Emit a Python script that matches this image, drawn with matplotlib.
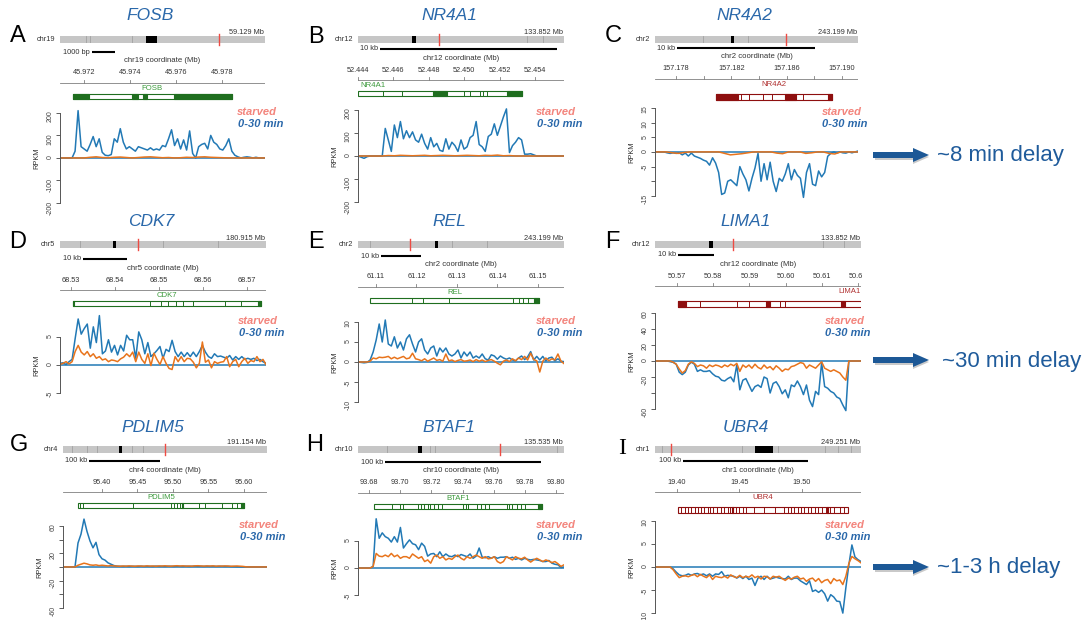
import numpy as np
import matplotlib
matplotlib.use('Agg')
import matplotlib.pyplot as plt
from matplotlib.patches import Rectangle, FancyArrow
from matplotlib.transforms import Bbox

plt.rcParams['font.family'] = ['Liberation Sans', 'DejaVu Sans']

# ------------------------------------------------------------------ data
genes = ['FOSB', 'NR4A1', 'NR4A2', 'CDK7', 'REL', 'LIMA1', 'PDLIM5', 'BTAF1', 'UBR4']
letters = ['A', 'B', 'C', 'D', 'E', 'F', 'G', 'H', 'I']
chroms = ['chr19', 'chr12', 'chr2', 'chr5', 'chr2', 'chr12', 'chr4', 'chr10', 'chr1']
chrom_len = [59.129, 133.852, 243.199, 180.915, 243.199, 133.852, 191.154, 135.535, 249.251]
gene_loc = [45.975, 52.449, 157.185, 68.55, 61.13, 50.59, 95.49, 93.74, 19.45]
centromere = [(24.8, 28.0), (35.1, 37.7), (90.7, 94.4), (46.6, 49.2), (90.9, 94.4),
              (35.1, 37.7), (52.5, 55.3), (39.5, 42.1), (121.0, 142.8)]
bands = [[7.5, 8.65, 20.8], [109.8, 120.0], [58.0, 111.0], [17.6, 90.5, 138.8],
         [14.2, 111.0, 152.0], [109.0, 123.0], [8.4, 22.5, 31.9, 64.7, 75.0],
         [19.0, 47.4, 50.6, 130.9], [8.5, 105.0, 149.0, 206.0, 222.0, 237.0]]

# visible window (Mb) of each locus
view = [(45.97096, 45.97987), (52.444, 52.45564), (157.17648, 157.19116),
        (68.5275, 68.57432), (61.10556, 61.15642), (50.56393, 50.62076),
        (95.3451, 95.6324), (93.6729, 93.8051), (19.3824, 19.5472)]
coord_ticks = [[45.972, 45.974, 45.976, 45.978],
               [52.444, 52.446, 52.448, 52.450, 52.452, 52.454],
               [157.178, 157.180, 157.182, 157.184, 157.186, 157.188, 157.190],
               [68.53, 68.54, 68.55, 68.56, 68.57],
               [61.11, 61.12, 61.13, 61.14, 61.15],
               [50.57, 50.58, 50.59, 50.60, 50.61, 50.62],
               [95.40, 95.45, 95.50, 95.55, 95.60],
               [93.68, 93.70, 93.72, 93.74, 93.76, 93.78, 93.80],
               [19.40, 19.45, 19.50]]
coord_labels = [['45.972', '45.974', '45.976', '45.978'],
                ['52.444', '52.446', '52.448', '52.450', '52.452', '52.454'],
                ['157.178', '', '157.182', '', '157.186', '', '157.190'],
                ['68.53', '68.54', '68.55', '68.56', '68.57'],
                ['61.11', '61.12', '61.13', '61.14', '61.15'],
                ['50.57', '50.58', '50.59', '50.60', '50.61', '50.62'],
                ['95.40', '95.45', '95.50', '95.55', '95.60'],
                ['93.68', '93.70', '93.72', '93.74', '93.76', '93.78', '93.80'],
                ['19.40', '19.45', '19.50']]
scale_start = [45.97235, 52.44524, 157.17807, 68.53273, 61.11123, 50.57028, 95.3817, 93.6903, 19.4048]
scale_len = [0.001, 0.010, 0.010, 0.010, 0.010, 0.010, 0.100, 0.100, 0.100]
scale_text = ['1000 bp', '10 kb', '10 kb', '10 kb', '10 kb', '10 kb', '100 kb', '100 kb', '100 kb']

# gene models
strand = ['+', '+', '-', '+', '+', '-', '+', '+', '-']
gene_span = [(45.97152, 45.97843), (52.444, 52.45327), (157.18089, 157.18928),
             (68.53045, 68.57318), (61.10852, 61.15025), (50.57028, 50.64),
             (95.3662, 95.6), (93.6832, 93.791), (19.4008, 19.5368)]
gene_blocks = [[(45.97152, 45.97222), (45.97409, 45.97435), (45.97457, 45.97474), (45.97591, 45.97843)],
               [(52.44824, 52.44903), (52.45242, 52.45327)],
               [(157.18089, 157.18248), (157.18588, 157.18667), (157.18899, 157.18928)],
               [(68.53045, 68.53068), (68.5725, 68.57318)],
               [(61.149, 61.15025)],
               [(50.57028, 50.57248), (50.59455, 50.59566), (50.61524, 50.61634)],
               [(95.5127, 95.5141), (95.5958, 95.6)],
               [(93.7885, 93.791)],
               [(19.4440, 19.4452), (19.5200, 19.5212)]]
gene_lines = [[],
              [52.44541, 52.44649, 52.45, 52.45033, 52.45089, 52.45106, 52.45129],
              [157.1827, 157.18328, 157.18429, 157.18494, 157.18718],
              [68.54795, 68.55045, 68.55205, 68.55386, 68.55545, 68.55773, 68.565, 68.56864],
              [61.11889, 61.1216, 61.12802, 61.14383, 61.14531, 61.1463, 61.14753],
              [50.57634, 50.58655, 50.58986, 50.59841, 50.59979],
              [95.369, 95.3732, 95.4437, 95.4972, 95.5014, 95.5056, 95.5099, 95.5366,
               95.5451, 95.569, 95.5831, 95.5901],
              [93.6948, 93.6999, 93.7018, 93.7115, 93.7134, 93.7153, 93.7179, 93.7192,
               93.7217, 93.7243, 93.7269, 93.7403, 93.7423, 93.7435, 93.7493, 93.7519,
               93.7545, 93.757, 93.7686, 93.7699, 93.7718, 93.775, 93.7776, 93.7801],
              [19.4035, 19.4062, 19.4085, 19.4110, 19.4140, 19.4168, 19.4192, 19.4220,
               19.4245, 19.4262, 19.4290, 19.4318, 19.4352, 19.4375, 19.4405, 19.4422,
               19.4450, 19.4475, 19.4500, 19.4528, 19.4555, 19.4620, 19.4700, 19.4785,
               19.4860, 19.4885, 19.4910, 19.4940, 19.4965, 19.4990, 19.5020, 19.5045,
               19.5075, 19.5100, 19.5130, 19.5160, 19.5190, 19.5222, 19.5255, 19.5300, 19.5335]]
label_align = ['center', 'left', 'center', 'center', 'center', 'right', 'center', 'center', 'center']

# RPKM signal, evenly spaced bins across the visible window
fosb_blue = [0, 0, 0, 0, 0, 30, 210, 50, 40, 30, 60, 95, 50, 85, 25, 12, 10, 15, 85, 70,
             130, 70, 40, 50, 40, 30, 50, 45, 40, 35, 45, 35, 40, 35, 55, 50, 85, 125, 55, 85,
             40, 80, 35, 120, 20, 0, 50, 60, 65, 40, 100, 70, 60, 40, 35, 55, 85, 30, 12, 5,
             0, 3, 5, 3, 0, 3, 0, 0, 0]
fosb_orange = [0, 0, 0, 0, 0, 3, 5, 2, 1, 3, 4, 2, 0, 2, 4, 5, 3, 1, 2, 0, 1, 3, 2, 4, 5,
               3, 2, 1, 0, 0, 0, 0, 0, 0, 0]
nr4a1_blue = [0, -5, -10, -3, 0, 0, 0, 0, 0, 120, 70, 20, 135, 80, 150, 75, 110, 80, 105, 70,
              60, 95, 55, 30, 80, 40, 55, 25, 20, 75, 30, 60, 45, 20, 70, 30, 40, 80, 90, 150,
              50, 40, 20, 85, 95, 140, 90, 130, 170, 205, 15, 45, 60, 80, 70, 8, 8, 10, 5, 0,
              0, 0, 0, 0, 0, 0, 0, 0, 0]
nr4a1_orange = [0, 0, 0, 0, 0, 2, 1, 3, 2, 1, 2, 3, 1, 2, 3, 2, 1, 2, 3, 2, 1, 3, 2, 4, 1,
                2, 0, 0, 0, 0, 0, 0, 0, 0, 0]
nr4a2_blue = [0, 0, 0, 0, -0.3, -0.5, -0.3, -0.5, -0.3, -1, -0.4, -1.4, -0.4, -1.4, -1.8,
              -2.2, -2.8, -3.2, -4.5, -2, -3.8, -7, -14.5, -14, -10, -9.5, -10.5, -11.5, -5,
              -7.5, -9.5, -13.3, -9, -5.5, -0.5, -10, -4, -9.5, -3.5, -10, -13.5, -9, -10,
              -7.5, -4, -9.5, -6, -8, -9, -15.5, -7, -4, -11, -11.5, -6.5, -8.5, -7, -1.5,
              -0.5, 0, -0.4, 0, -0.3, -0.4, 0, -0.3, 0, 0.3]
nr4a2_orange = [0, 0, 0, -0.3, -0.5, -0.2, 0, 0, 0, 0, 0, 0, -0.5, -1, -0.8, -0.6, -0.3, 0,
                0, 0, 0, -0.4, -0.6, 0, 0, 0, -0.5, -0.3, 0, 0, -0.5, -0.7, 0, 0, 0, 0]
cdk7_blue = [0.3, 0.4, 0.1, 0.6, 1.0, 4.7, 8.2, 5.5, 6.5, 7.3, 3.0, 6.8, 4.0, 8.8, 2.0, 2.5,
             4.5, 2.3, 3.5, 1.8, 3.5, 2.5, 5.3, 4.5, 4.5, 1.2, 5.9, 4.5, 2.0, 4.0, 1.5, 2.0,
             2.6, 3.3, 1.2, 2.8, 2.4, 4.4, 2.4, 1.5, 2.3, 1.5, 2.2, 1.5, 2.3, 1.5, 2.4, 3.5,
             2.3, 1.5, 1.2, 2.0, 1.5, 1.6, 1.4, 1.2, 1.7, 0.9, 1.5, 1.0, 1.5, 1.0, 1.2, 1.0,
             1.2, 0.8, 1.0, 0.6, 0.3]
cdk7_orange = [0.1, 0.3, 0.6, 0.2, 0.6, 2.4, 3.5, 2.3, 1.8, 2.4, 1.5, 2.0, 1.2, 1.5, 0.9,
               1.1, 0.6, 0.9, 0.8, 0.6, 1.1, 1.4, 2.0, 1.5, 2.3, 0.6, 2.3, 1.0, 0.3, 2.0,
               -0.1, 2.1, 1.0, 0.1, 1.5, 0.3, -0.6, -0.8, 1.5, 0.6, 1.5, 0.6, 1.2, 1.1, 0.5,
               -0.5, 0.3, 4.1, 0.5, 0.9, -0.5, 0.6, 0.3, 0.5, 0.6, 1.5, -0.3, 0.6, 1.0, -0.3,
               0.6, 1.2, 0.3, 0.8, 0.6, 1.5, 0.6, 1.0, 0.1]
rel_blue = [0, -0.1, -0.2, -0.1, 0.5, 2.5, 5.5, 9.5, 5.0, 10.5, 4.5, 4.0, 6.3, 3.5, 5.0, 3.0,
            5.8, 6.8, 4.5, 2.5, 5.0, 5.8, 3.0, 2.0, 3.5, 4.0, 1.5, 3.5, 2.5, 3.5, 2.0, 1.5,
            2.0, 3.0, 1.0, 2.5, 1.5, 2.5, 1.0, 1.5, 1.0, 2.0, 0.8, 0.5, 1.8, 1.5, 0.7, 1.5,
            1.0, 0.7, 1.0, 0.5, 0.3, 1.0, 1.5, 0.6, 1.3, 2.6, 0.5, 1.4, 0.5, 1.4, 0.3, 1.0,
            1.2, 0.3, 0.8, 0.2, 0.1]
rel_orange = [0, 0, 0, 0, 0.2, 1.0, 0.8, 1.2, 1.1, 1.2, 1.4, 0.8, 1.2, 0.8, 1.1, 1.4, 0.8,
              1.0, 2.2, 0.8, 0.6, 0.3, 0.8, 0.2, 0.6, 1.0, 0.4, 0.6, 0.2, 2.0, 0.3, 0.5, 0.1,
              0.4, 0.6, 0.2, 0.3, 0.5, 0.1, 0.6, 0.2, 0.5, 0.1, 0.4, 0.6, 0.2, -0.3, -0.7,
              0.2, 0.5, 0.1, 0.8, 0.3, 1.0, 0.6, 1.4, 0.5, 2.2, 0.6, 0.3, -2.5, 0.2, 1.0,
              0.3, 0.8, 0.5, 2.0, 0.2, -0.4]
lima1_blue = [0, 0, 0, 0, 0, -0.8, -1.7, -4, -14, -17, -14, -5, -1.5, -4, -13, -11, -13, -13,
              -12, -16, -19, -20, -24, -25, -22, -20, -26, -5, -36, -24, -22, -30, -38, -32,
              -30, -33, -20, -22, -40, -28, -26, -32, -41, -36, -46, -30, -32, -25, -32, -42,
              -30, -49, -57, -38, -42, -2, -32, -34, -38, -40, -45, -47, -55, -62, 0, 0, 0,
              0, 0]
lima1_orange = [0, 0, 0, 0, 0, 0, -1.5, -4, -10, -15, -12, -4, -1, -3, -7, -5, -6, -9, -5,
                -7, -5, -6, -8, -5, -7, -4, -6, -3, -13, -5, -8, -5, -9, -4, -8, -10, -5, -9,
                -7, -11, -6, -9, -13, -10, -11, -7, -6, -4, -2, -3, -9, -5, -7, -9, -5, -1,
                -9, -11, -13, -11, -13, -15, -20, -24, 0, 0, 0, 0, 0]
pdlim5_blue = [0, 0, 0, 0, 0, 35, 48, 70, 52, 38, 28, 36, 18, 12, 10, 6, 4, 2, 1.2, 1.0,
               0.8, 1.0, 0.7, 1.0, 0.9, 0.7, 1.1, 0.8, 1.0, 0.9, 0.8, 1.2, 0.9, 1.0, 0.8,
               1.1, 1.0, 0.8, 1.2, 1.0, 0.9, 1.1, 0.8, 1.0, 1.2, 0.9, 1.0, 0.8, 1.1, 0.9,
               1.0, 0.8, 0.9, 1.0, 0.8, 0.9, 0.6, 0.5, 0.3, 0.2, 0.1, 0.1, 0, 0, 0, 0, 0, 0, 0]
pdlim5_orange = [0, 0, 0, 0, 0, 2.5, 4, 5.5, 4.5, 3, 2.5, 3, 2, 2.5, 2, 1.5, 2, 1.5, 1.2,
                 1.0, 1.4, 1.1, 1.6, 1.2, 1.0, 1.5, 1.3, 1.1, 1.6, 1.2, 1.4, 1.0, 1.5, 1.3,
                 1.7, 1.2, 1.1, 1.5, 1.8, 1.3, 1.6, 1.2, 1.4, 1.1, 1.6, 1.8, 1.4, 1.2, 1.5,
                 1.3, 1.6, 1.1, 1.4, 1.2, 1.5, 1.3, 1.0, 1.2, 1.4, 1.1, 0.8, 0.2, 0, 0, 0, 0,
                 0, 0, 0]
btaf1_blue = [0, 0, 0, 0, 0, 0.3, 9.1, 5.5, 6.5, 5.8, 5.5, 4.8, 5.8, 4.8, 7.5, 3.7, 4.5, 5.2,
              4.5, 4.3, 3.4, 4.6, 4.0, 2.2, 2.6, 2.7, 2.1, 3.0, 2.1, 2.6, 2.2, 2.1, 2.4, 2.1,
              2.5, 2.3, 2.1, 2.6, 1.8, 2.2, 3.7, 2.0, 1.9, 2.1, 1.8, 2.1, 1.8, 2.0, 2.0, 2.1,
              1.8, 2.0, 1.6, 1.8, 1.5, 1.8, 1.6, 1.5, 1.6, 1.5, 1.4, 1.2, 1.2, 1.4, 0.9, 0.7,
              0.6, 0.1, 0.2]
btaf1_orange = [0, 0, 0, 0, 0, 0.3, 2.7, 2.2, 2.1, 2.4, 2.1, 2.7, 2.1, 2.4, 1.8, 2.1, 2.1,
                1.8, 2.6, 2.2, 1.8, 2.1, 1.2, 1.5, 0.9, 2.1, 2.4, 1.8, 2.1, 1.5, 1.8, 1.6, 2.1,
                2.4, 1.8, 1.5, 2.1, 1.8, 2.1, 2.4, 2.1, 1.8, 2.1, 1.7, 1.8, 2.1, 1.2, 0.9, 1.2,
                2.1, 1.8, 1.5, 2.1, 1.8, 1.7, 2.0, 1.5, 1.1, 1.5, 1.8, 1.5, 1.2, 1.5, 1.3, 1.0,
                1.2, 0.8, 0.3, 0.6]
ubr4_blue = [0, 0, 0, 0, 0, 0, -0.4, -1.1, -1.7, -1.9, -1.8, -1.5, -1.8, -1.5, -1.4, -1.7,
             -1.5, -1.9, -1.5, -2.0, -1.5, -1.6, -1.0, -2.0, -1.8, -1.9, -2.0, -2.4, -2.0,
             -2.5, -2.0, -2.7, -2.4, -4.0, -2.4, -2.0, -2.7, -2.0, -2.6, -2.4, -2.2, -2.4,
             -2.5, -2.6, -2.0, -2.7, -2.4, -2.4, -3.0, -3.4, -3.8, -3.0, -5.3, -5.0, -5.5,
             -5.0, -5.8, -7.4, -6.0, -6.5, -7.4, -7.5, -10.0, -4.5, 0.5, 4.8, 2.2, 1.6, 1.2]
ubr4_orange = [0, 0, 0, 0, 0, 0, -0.6, -1.5, -2.3, -2.0, -1.9, -2.1, -1.8, -1.6, -2.1, -1.6,
               -2.0, -2.3, -1.7, -2.7, -2.0, -2.2, -2.3, -2.0, -2.4, -1.7, -2.1, -2.3, -1.8,
               -2.3, -2.0, -2.2, -1.7, -2.3, -2.0, -2.6, -2.0, -2.1, -2.6, -2.0, -2.2, -2.0,
               -2.5, -2.9, -2.4, -2.6, -2.2, -2.0, -2.6, -2.4, -3.1, -2.6, -2.4, -3.1, -2.5,
               -3.4, -2.9, -2.7, -3.6, -2.5, -3.0, -2.8, -3.8, -2.0, 0.8, 2.3, 1.8, 1.4, 0.9]

blue_sig = [fosb_blue, nr4a1_blue, nr4a2_blue, cdk7_blue, rel_blue, lima1_blue,
            pdlim5_blue, btaf1_blue, ubr4_blue]
orange_sig = [fosb_orange, nr4a1_orange, nr4a2_orange, cdk7_orange, rel_orange, lima1_orange,
              pdlim5_orange, btaf1_orange, ubr4_orange]

sig_ylim = [(-231, 235), (-235, 222), (-19.8, 16), (-8.9, 9.8), (-13.25, 13),
            (-67.5, 63.75), (-77.6, 76), (-9.6, 9.8), (-11.5, 11.3)]
sig_ticks = [[-200, -100, 0, 100, 200], [-200, -100, 0, 100, 200],
             [-15, -10, -5, 0, 5, 10, 15], [-5, 0, 5], [-10, -5, 0, 5, 10],
             [-60, -40, -20, 0, 20, 40, 60], [-60, -40, -20, 0, 20, 40, 60],
             [-5, 0, 5], [-10, -5, 0, 5, 10]]
sig_labels = [['-200', '-100', '0', '100', '200'], ['-200', '-100', '0', '100', '200'],
              ['-15', '', '-5', '0', '5', '10', '15'], ['-5', '0', '5'],
              ['-10', '-5', '0', '5', '10'],
              ['-60', '', '-20', '0', '20', '40', '60'],
              ['-60', '', '-20', '', '20', '', '60'],
              ['-5', '0', '5'], ['-10', '-5', '0', '5', '10']]

delays = ['~8 min delay', '~30 min delay', '~1-3 h delay']

# ------------------------------------------------------------------ layout / style
W, H = 1086, 620
BLUE = '#2279b5'
ORANGE = '#e8741c'
TITLE_BLUE = '#2a68aa'
SALMON = '#f3847c'
TXT = '#333333'
GENE_COL = {'+': '#1f6e1f', '-': '#8e0f0f'}
GENE_LBL = {'+': '#3d9a3d', '-': '#b03030'}

panel_x = [(60, 265), (358, 564), (655, 858), (60, 266), (358, 564), (655, 861),
           (63, 267), (358, 564), (655, 861)]
row_top = [0, 205, 410]
axis_y = [83, 80, 79, 85, 82, 81, 82, 83, 82]
letter_xy = [(18, 36), (316, 37), (613, 36), (18, 242), (316, 242), (612, 242),
             (19, 445), (315, 445), (622, 448)]
legend_y = [(112, 124), (116, 128), (115, 127)]
arrow_y = [155, 360, 567]
delay_x = [937, 942, 937]

fig = plt.figure(figsize=(W / 100, H / 100), dpi=100)
canvas = fig.add_axes([0, 0, 1, 1])
canvas.set_xlim(0, W)
canvas.set_ylim(H, 0)
canvas.axis('off')


def px_axes(x0, y0, x1, y1):
    ax = fig.add_axes([x0 / W, 1 - y1 / H, (x1 - x0) / W, (y1 - y0) / H])
    ax.set_facecolor('none')
    return ax


small = dict(fontsize=5.3, color=TXT)

for i in range(9):
    row, col = divmod(i, 3)
    y0 = row_top[row]
    x0, x1 = panel_x[i]
    v0, v1 = view[i]
    ppm = (x1 - x0) / (v1 - v0)
    ay = y0 + axis_y[i]
    gcol = GENE_COL[strand[i]]

    # title + panel letter
    canvas.text((x0 + x1) / 2 - 12, y0 + 16 + (2 if row == 2 else 0), genes[i],
                fontsize=12.5, style='italic', color=TITLE_BLUE, ha='center', va='center')
    canvas.text(letter_xy[i][0], letter_xy[i][1], letters[i], fontsize=17, ha='center',
                va='center', color='black',
                family=['Liberation Serif'] if letters[i] == 'I' else ['Liberation Sans'])

    # chromosome ideogram
    ideo = px_axes(x0, y0 + 36, x1, y0 + 43)
    ideo.set_xlim(0, chrom_len[i])
    ideo.set_ylim(0, 1)
    ideo.axis('off')
    ideo.add_patch(Rectangle((0, 0), chrom_len[i], 1, fc='#c6c6c6', ec='none'))
    for b in bands[i]:
        ideo.plot([b, b], [0, 1], color='#a2a2a2', lw=0.6)
    c0, c1 = centromere[i]
    ideo.add_patch(Rectangle((c0, 0), c1 - c0, 1, fc='black', ec='none'))
    ideo.plot([gene_loc[i]] * 2, [-0.25, 1.25], color='#ee4b43', lw=1.0, clip_on=False)
    canvas.text(x0 - 5, y0 + 39.5, chroms[i], ha='right', va='center', **small)
    canvas.text(x1 - 1, y0 + 36.5, f'{chrom_len[i]:.3f} Mb', ha='right', va='bottom', **small)

    # coordinate track: scale bar, axis, gene model
    trk = px_axes(x0, y0 + 44, x1, y0 + 112)
    trk.set_xlim(v0, v1)
    trk.set_ylim(y0 + 112, y0 + 44)
    trk.axis('off')
    sy = ay - 31
    trk.plot([scale_start[i], scale_start[i] + scale_len[i]], [sy, sy], color='black',
             lw=1.5, solid_capstyle='butt')
    trk.text(scale_start[i] - 2 / ppm, sy, scale_text[i], ha='right', va='center', **small)
    trk.text((v0 + v1) / 2, ay - 22, f'{chroms[i]} coordinate (Mb)', ha='center',
             va='center', fontsize=5.6, color=TXT)
    trk.plot([v0, v1], [ay, ay], color='#808080', lw=0.6)
    # tick labels are cut only at the right edge of each panel
    right_clip = Bbox.from_extents(x0 - 40, 0, x1 + 0.5, H)
    for t, lab in zip(coord_ticks[i], coord_labels[i]):
        trk.plot([t, t], [ay, ay - 3], color='#808080', lw=0.6)
        if lab:
            tt = trk.text(t, ay - 10, lab, ha='center', va='center', **small)
            tt.set_clip_path(None)
            tt.set_clip_box(right_clip)
            tt.set_clip_on(True)

    gs, ge = gene_span[i]
    gy = ay + (13.5 if strand[i] == '+' else 18)
    trk.add_patch(Rectangle((gs, gy - 2.8), ge - gs, 5.6, fc='white', ec=gcol, lw=0.8))
    for a, b in gene_blocks[i]:
        trk.add_patch(Rectangle((a, gy - 2.8), b - a, 5.6, fc=gcol, ec=gcol, lw=0.8))
    for e in gene_lines[i]:
        trk.plot([e, e], [gy - 2.8, gy + 2.8], color=gcol, lw=0.7)
    if label_align[i] == 'left':
        lx = v0 + 2 / ppm
    elif label_align[i] == 'right':
        lx = v1
    else:
        lx = (max(gs, v0) + min(ge, v1)) / 2
    trk.text(lx, ay + 5.5, genes[i], ha=label_align[i], va='center', fontsize=5.6,
             color=GENE_LBL[strand[i]])

    # RPKM signal
    sig = px_axes(x0, y0 + 105, x1, y0 + 210)
    ymin, ymax = sig_ylim[i]
    sig.set_xlim(v0, v1)
    sig.set_ylim(ymin, ymax)
    sig.axhline(0, color=BLUE, lw=1.1)
    bl = blue_sig[i]
    orr = orange_sig[i]
    sig.plot(np.linspace(v0, v1, len(bl)), bl, color=BLUE, lw=1.1)
    sig.plot(np.linspace(v0, v1, len(orr)), orr, color=ORANGE, lw=1.1)
    for s in ['top', 'right', 'bottom']:
        sig.spines[s].set_visible(False)
    sig.spines['left'].set_bounds(min(sig_ticks[i]), max(sig_ticks[i]))
    sig.spines['left'].set_color('#555555')
    sig.spines['left'].set_linewidth(0.7)
    sig.set_xticks([])
    sig.set_yticks(sig_ticks[i], sig_labels[i])
    sig.tick_params(axis='y', length=3, width=0.6, labelsize=5, pad=1.5,
                    colors='#444444', labelrotation=90)
    zero_px = y0 + 105 + ymax / (ymax - ymin) * 105
    canvas.text(x0 - 23, zero_px, 'RPKM', rotation=90, ha='center', va='center', **small)

    dx = (4, 9) if col == 2 else (12, 18)
    ly = legend_y[row]
    canvas.text(x1 + dx[0], y0 + ly[0], 'starved', ha='right', va='center', fontsize=8,
                weight='bold', style='italic', color=SALMON)
    canvas.text(x1 + dx[1], y0 + ly[1], '0-30 min', ha='right', va='center', fontsize=8,
                weight='bold', style='italic', color=TITLE_BLUE)

# delay arrows
for yy, txt, tx in zip(arrow_y, delays, delay_x):
    canvas.add_patch(FancyArrow(875, yy + 2, 54, 0, width=6, head_width=14, head_length=16,
                                length_includes_head=True, color='#888888', alpha=0.45, lw=0))
    canvas.add_patch(FancyArrow(873, yy, 56, 0, width=6, head_width=14, head_length=16,
                                length_includes_head=True, color='#1c5896', lw=0))
    canvas.text(tx, yy + 1, txt, fontsize=16, color='#1f5b9b', va='center', ha='left')

fig.savefig('out.png', dpi=100)
